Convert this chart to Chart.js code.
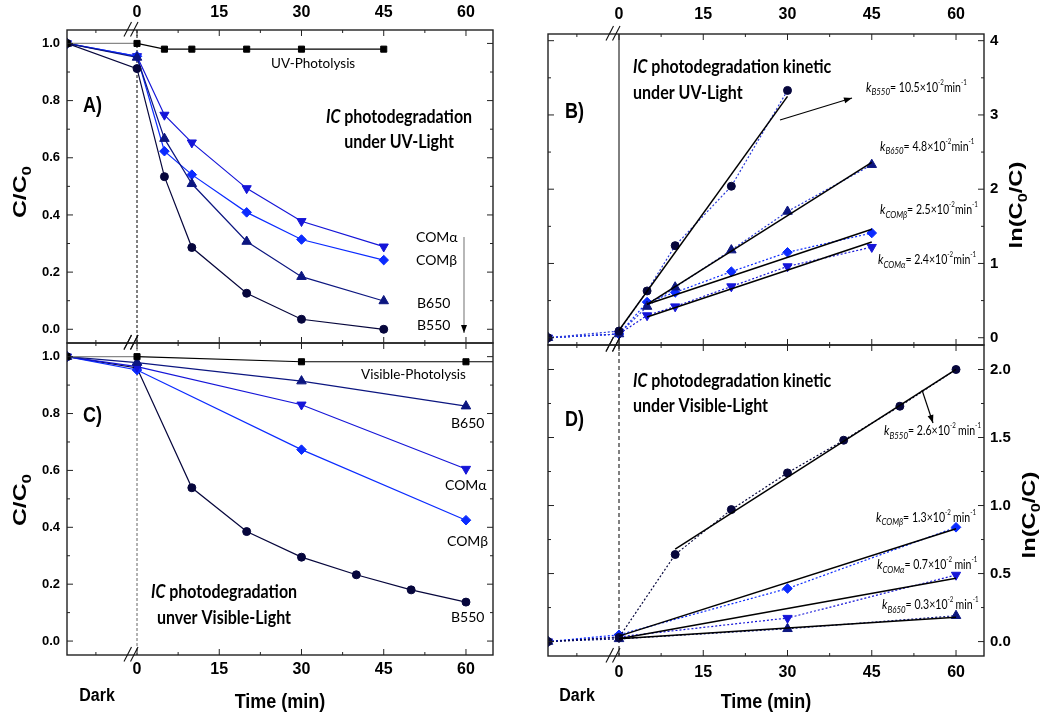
<!DOCTYPE html>
<html><head><meta charset="utf-8">
<script src="https://cdn.jsdelivr.net/npm/chart.js@4.4.0/dist/chart.umd.min.js"></script>
<style>
html,body{margin:0;padding:0;background:#fff;}
#wrap{position:relative;width:1053px;height:716px;overflow:hidden;background:#fff;}
canvas{position:absolute;left:0;top:0;}
</style></head><body><div id="wrap">
<canvas id="cA" width="1053" height="716"></canvas>
<canvas id="cB" width="1053" height="716"></canvas>
<canvas id="cC" width="1053" height="716"></canvas>
<canvas id="cD" width="1053" height="716"></canvas>
</div>
<script>
// ---------------- DATA ----------------
const xTickLabels = [0, 15, 30, 45, 60];
const xMinorTicks = [-7.5, 7.5, 22.5, 37.5, 52.5];
const ccTickLabels = [0, 0.2, 0.4, 0.6, 0.8, 1.0];
const ccMinorTicks = [0.1, 0.3, 0.5, 0.7, 0.9];
const lnUvTickLabels = [0, 1, 2, 3, 4];
const lnUvMinorTicks = [0.5, 1.5, 2.5, 3.5];
const lnVisTickLabels = [0, 0.5, 1.0, 1.5, 2.0];
const lnVisMinorTicks = [0.25, 0.75, 1.25, 1.75];

const darkCC = 1.0;      // C/C0 in the dark stage
const darkLn = 0.0;      // ln(C0/C) in the dark stage

// Panel A: UV, C/C0
const uvTime = [0, 5, 10, 20, 30, 45];
const uvPhotolysis = [1.0, 0.98, 0.98, 0.98, 0.98, 0.98];
const uvB550 = [0.912, 0.534, 0.286, 0.126, 0.035, 0.0];
const uvB650 = [0.951, 0.667, 0.509, 0.307, 0.184, 0.099];
const uvCOMb = [0.955, 0.623, 0.541, 0.409, 0.314, 0.242];
const uvCOMa = [0.955, 0.750, 0.653, 0.493, 0.378, 0.289];

// Panel C: Visible, C/C0
const visTime = [0, 30, 60];
const visPhotTime = [0, 30, 60, 65];
const visPhotolysis = [1.0, 0.982, 0.982, 0.982];
const visB650 = [0.979, 0.914, 0.826];
const visCOMa = [0.965, 0.831, 0.605];
const visCOMb = [0.953, 0.673, 0.425];
const visB550Time = [0, 10, 20, 30, 40, 50, 60];
const visB550 = [0.96, 0.539, 0.385, 0.295, 0.233, 0.180, 0.137];

// Panel B: UV, ln(C0/C)
const lnUvB550Time = [0, 5, 10, 20, 30];
const lnUvB550 = [0.09, 0.63, 1.24, 2.04, 3.33];
const lnUvB650 = [0.05, 0.42, 0.68, 1.18, 1.70, 2.33];
const lnUvCOMb = [0.05, 0.48, 0.61, 0.89, 1.15, 1.41];
const lnUvCOMa = [0.05, 0.30, 0.42, 0.69, 0.96, 1.22];
const fitUvB550 = {x: [0, 30], y: [0.10, 3.25]};
const fitUvB650 = {x: [5, 45], y: [0.45, 2.36]};
const fitUvCOMb = {x: [5, 45], y: [0.45, 1.46]};
const fitUvCOMa = {x: [5, 45], y: [0.28, 1.29]};

// Panel D: Visible, ln(C0/C)
const lnVisB550 = [0.03, 0.64, 0.97, 1.24, 1.48, 1.73, 2.0];
const lnVisCOMb = [0.05, 0.39, 0.84];
const lnVisCOMa = [0.035, 0.173, 0.49];
const lnVisB650 = [0.02, 0.094, 0.19];
const fitVisB550 = {x: [10, 60], y: [0.68, 2.0]};
const fitVisCOMb = {x: [0, 60], y: [0.04, 0.83]};
const fitVisCOMa = {x: [0, 60], y: [0.02, 0.465]};
const fitVisB650 = {x: [0, 60], y: [0.02, 0.178]};

// ---------------- STYLE ----------------
const C = {photo: '#000000', B550: '#06063c', B650: '#0c1680', COMb: '#0b2bff', COMa: '#1515d8'};
const ARIAL = "'Liberation Sans', Arial, sans-serif";
const CALI = "Lato, 'Open Sans', sans-serif";
const XMIN_L = -12.77, XMAX_L = 64.93;
const XMIN_R = -12.64, XMAX_R = 64.98;

function pts(xs, ys, dark) {
  const out = [];
  if (dark !== undefined) out.push({x: 'DARK', y: dark});
  xs.forEach((t, i) => out.push({x: t, y: ys[i]}));
  return out;
}

function series(label, color, style, xs, ys, dark, xminDark, opts) {
  const data = pts(xs, ys, dark).map(p => ({x: p.x === 'DARK' ? xminDark : p.x, y: p.y}));
  const s = {
    square: {pointStyle: 'rect', radius: 4.3, rot: 0},
    circle: {pointStyle: 'circle', radius: 4, rot: 0},
    up: {pointStyle: 'triangle', radius: 5.5, rot: 0},
    down: {pointStyle: 'triangle', radius: 5.3, rot: 180},
    diamond: {pointStyle: 'rectRot', radius: 4.8, rot: 0}
  }[style];
  return Object.assign({
    label, data, showLine: true, borderColor: color, backgroundColor: color,
    pointBackgroundColor: color, pointBorderColor: color, pointBorderWidth: 1,
    pointStyle: s.pointStyle, pointRadius: s.radius, pointRotation: s.rot,
    borderWidth: 1.2, tension: 0
  }, opts || {});
}

function fitLine(f) {
  return {
    data: f.x.map((v, i) => ({x: v, y: f.y[i]})), showLine: true,
    borderColor: '#000', borderWidth: 1.5, pointRadius: 0, tension: 0
  };
}

// ---------------- TEXT HELPERS ----------------
function drawParts(ctx, x, y, parts, opt) {
  opt = opt || {};
  ctx.save();
  ctx.translate(x, y);
  if (opt.rot) ctx.rotate(opt.rot);
  ctx.scale(opt.sx || 1, opt.sy || 1);
  ctx.textBaseline = 'alphabetic';
  ctx.fillStyle = opt.color || '#000';
  let total = 0;
  parts.forEach(p => { ctx.font = p.f; p.w = ctx.measureText(p.t).width + (p.gap || 0); total += p.w; });
  let cx = opt.align === 'center' ? -total / 2 : (opt.align === 'right' ? -total : 0);
  parts.forEach(p => { ctx.font = p.f; ctx.textAlign = 'left'; ctx.fillText(p.t, cx, p.dy || 0); cx += p.w; });
  ctx.restore();
}
function arrow(ctx, x1, y1, x2, y2, color, headColor) {
  ctx.save();
  ctx.strokeStyle = color; ctx.lineWidth = 1.2; ctx.setLineDash([]);
  ctx.beginPath(); ctx.moveTo(x1, y1); ctx.lineTo(x2, y2); ctx.stroke();
  const a = Math.atan2(y2 - y1, x2 - x1), L = 8, W = 3;
  ctx.fillStyle = headColor || color;
  ctx.beginPath();
  ctx.moveTo(x2, y2);
  ctx.lineTo(x2 - L * Math.cos(a) + W * Math.sin(a), y2 - L * Math.sin(a) - W * Math.cos(a));
  ctx.lineTo(x2 - L * Math.cos(a) - W * Math.sin(a), y2 - L * Math.sin(a) + W * Math.cos(a));
  ctx.closePath(); ctx.fill();
  ctx.restore();
}
const B = (s) => `bold ${s}px ${ARIAL}`;
const LB = (s) => `bold ${s}px ${CALI}`;
const LR = (s) => `${s}px ${CALI}`;
const LI = (s) => `italic ${s}px ${CALI}`;
function kLabel(sub, val, spaceMin) {
  return [
    {t: 'k', f: LI(13)},
    {t: sub, f: LI(9), dy: 3.5},
    {t: '= ' + val + '\u00d710', f: LR(12)},
    {t: '-2', f: LR(7), dy: -6, gap: spaceMin ? 2.5 : 0},
    {t: 'min', f: LR(12)},
    {t: '-1', f: LR(7), dy: -6}
  ];
}
const kOpt = {sx: 0.88, sy: 1.1};

// ---------------- PANEL PLUGIN ----------------
const panelPlugin = {
  id: 'panel',
  beforeDatasetsDraw(chart, args, o) {
    const {ctx, chartArea: a, scales: {x}} = chart;
    const p = x.getPixelForValue(0);
    ctx.save();
    ctx.strokeStyle = o.zeroColor; ctx.lineWidth = 1; ctx.setLineDash(o.zeroDash);
    ctx.beginPath(); ctx.moveTo(p, a.top); ctx.lineTo(p, a.bottom); ctx.stroke();
    ctx.restore();
  },
  afterDraw(chart, args, o) {
    const {ctx, chartArea: a, scales: {x, y}} = chart;
    ctx.save();
    ctx.setLineDash([]);
    ctx.strokeStyle = '#222'; ctx.lineWidth = 1.4;
    ctx.strokeRect(a.left, a.top, a.right - a.left, a.bottom - a.top);
    ctx.lineWidth = 1; ctx.strokeStyle = '#222';
    const line = (x1, y1, x2, y2) => { ctx.beginPath(); ctx.moveTo(x1, y1); ctx.lineTo(x2, y2); ctx.stroke(); };
    xTickLabels.forEach(v => { const p = x.getPixelForValue(v); line(p, a.top, p, a.top + 6); line(p, a.bottom, p, a.bottom - 6); });
    xMinorTicks.forEach(v => { const p = x.getPixelForValue(v); line(p, a.top, p, a.top + 3); line(p, a.bottom, p, a.bottom - 3); });
    o.yMajor.forEach(v => { const p = y.getPixelForValue(v); line(a.left, p, a.left + 6, p); line(a.right, p, a.right - 6, p); });
    o.yMinor.forEach(v => { const p = y.getPixelForValue(v); line(a.left, p, a.left + 3, p); line(a.right, p, a.right - 3, p); });
    // axis break marks
    const p0 = x.getPixelForValue(0);
    ctx.lineWidth = 1.1; ctx.strokeStyle = '#111';
    [a.top, a.bottom].forEach(e => {
      line(p0 - 13, e + 6.5, p0 - 5.5, e - 8);
      line(p0 - 6.5, e + 6.5, p0 + 1, e - 8);
    });
    ctx.restore();
    (o.draw || (() => {}))(ctx, chart);
  }
};
Chart.register(panelPlugin);

function makeChart(id, cfg) {
  const tickFontX = {family: ARIAL, weight: 'bold', size: 16};
  return new Chart(document.getElementById(id), {
    type: 'scatter',
    data: {datasets: cfg.datasets},
    options: {
      responsive: false, animation: false, devicePixelRatio: 1,
      layout: {padding: cfg.padding},
      plugins: {legend: {display: false}, tooltip: {enabled: false},
        panel: {zeroColor: cfg.zeroColor, zeroDash: cfg.zeroDash, yMajor: cfg.yTicks, yMinor: cfg.yMinor, draw: cfg.draw}},
      scales: {
        x: {
          type: 'linear', position: cfg.xPos, min: cfg.xmin, max: cfg.xmax,
          grid: {display: false, drawTicks: false}, border: {display: false},
          ticks: {font: tickFontX, color: '#000', padding: cfg.xPad, autoSkip: false, maxRotation: 0,
            callback: v => String(v)},
          afterBuildTicks: s => { s.ticks = xTickLabels.map(v => ({value: v})); },
          afterFit: s => { s.height = cfg.xH; }
        },
        y: {
          type: 'linear', position: cfg.yPos, min: cfg.ymin, max: cfg.ymax,
          grid: {display: false, drawTicks: false}, border: {display: false},
          ticks: {font: {family: ARIAL, weight: 'bold', size: cfg.yFont}, color: '#000', padding: cfg.yPad,
            autoSkip: false, callback: cfg.yFmt},
          afterBuildTicks: s => { s.ticks = cfg.yTicks.map(v => ({value: v})); },
          afterFit: s => { s.width = cfg.yW; }
        }
      }
    }
  });
}

// ---------- Panel A ----------
makeChart('cA', {
  padding: {left: 0, top: 0, right: 1053 - 493, bottom: 716 - 343},
  xPos: 'top', xH: 30, xPad: 8, xmin: XMIN_L, xmax: XMAX_L,
  yPos: 'left', yW: 67, yPad: 7, yFont: 13, ymin: -0.048, ymax: 1.047,
  yTicks: ccTickLabels, yMinor: ccMinorTicks, yFmt: v => v.toFixed(1),
  zeroColor: '#000', zeroDash: [3, 2],
  datasets: [
    series('UV-Photolysis', C.photo, 'square', uvTime, uvPhotolysis, darkCC, XMIN_L,
      {segment: {borderColor: c => c.p0.parsed.x < 0 ? '#888' : '#000'}}),
    series('B550', C.B550, 'circle', uvTime, uvB550, darkCC, XMIN_L),
    series('B650', C.B650, 'up', uvTime, uvB650, darkCC, XMIN_L),
    series('COMb', C.COMb, 'diamond', uvTime, uvCOMb, darkCC, XMIN_L),
    series('COMa', C.COMa, 'down', uvTime, uvCOMa, darkCC, XMIN_L)
  ],
  draw: (ctx) => {
    drawParts(ctx, 83, 112, [{t: 'A)', f: B(18)}], {sy: 1.2});
    drawParts(ctx, 271, 68, [{t: 'UV-Photolysis', f: LR(13.5)}]);
    drawParts(ctx, 399, 123, [{t: 'IC', f: `italic bold 16px ${CALI}`}, {t: ' photodegradation', f: LB(16)}], {align: 'center', sy: 1.15});
    drawParts(ctx, 399, 148, [{t: 'under UV-Light', f: LB(16)}], {align: 'center', sy: 1.15});
    drawParts(ctx, 416, 242, [{t: 'COM\u03b1', f: LR(14)}]);
    drawParts(ctx, 416, 264.5, [{t: 'COM\u03b2', f: LR(14)}]);
    drawParts(ctx, 417, 308, [{t: 'B650', f: LR(14)}]);
    drawParts(ctx, 417, 330, [{t: 'B550', f: LR(14)}]);
    arrow(ctx, 464, 237, 464, 333, '#888', '#000');
    drawParts(ctx, 26, 192, [{t: 'C/C', f: B(19)}, {t: '0', f: B(13), dy: 5}], {rot: -Math.PI / 2, align: 'center', sx: 1.3});
  }
});

// ---------- Panel C ----------
makeChart('cC', {
  padding: {left: 0, top: 343, right: 1053 - 493, bottom: 0},
  xPos: 'bottom', xH: 716 - 655, xPad: 5, xmin: XMIN_L, xmax: XMAX_L,
  yPos: 'left', yW: 67, yPad: 7, yFont: 13, ymin: -0.049, ymax: 1.048,
  yTicks: ccTickLabels, yMinor: ccMinorTicks, yFmt: v => v.toFixed(1),
  zeroColor: '#666', zeroDash: [3, 2],
  datasets: [
    series('Visible-Photolysis', C.photo, 'square', visPhotTime, visPhotolysis, darkCC, XMIN_L,
      {pointRadius: [4.3, 4.3, 4.3, 4.3, 0], segment: {borderColor: c => c.p0.parsed.x < 0 ? '#888' : '#000'}}),
    series('B650', C.B650, 'up', visTime, visB650, darkCC, XMIN_L),
    series('COMa', C.COMa, 'down', visTime, visCOMa, darkCC, XMIN_L),
    series('COMb', C.COMb, 'diamond', visTime, visCOMb, darkCC, XMIN_L),
    series('B550', C.B550, 'circle', visB550Time, visB550, darkCC, XMIN_L)
  ],
  draw: (ctx) => {
    drawParts(ctx, 83, 422, [{t: 'C)', f: B(18)}], {sy: 1.2});
    drawParts(ctx, 361, 379, [{t: 'Visible-Photolysis', f: LR(13.5)}]);
    drawParts(ctx, 451, 428, [{t: 'B650', f: LR(14)}]);
    drawParts(ctx, 445, 490, [{t: 'COM\u03b1', f: LR(14)}]);
    drawParts(ctx, 447, 545.5, [{t: 'COM\u03b2', f: LR(14)}]);
    drawParts(ctx, 451, 622, [{t: 'B550', f: LR(14)}]);
    drawParts(ctx, 224, 598, [{t: 'IC', f: `italic bold 16px ${CALI}`}, {t: ' photodegradation', f: LB(16)}], {align: 'center', sy: 1.15});
    drawParts(ctx, 224, 624, [{t: 'unver Visible-Light', f: LB(16)}], {align: 'center', sy: 1.15});
    drawParts(ctx, 26, 500, [{t: 'C/C', f: B(19)}, {t: '0', f: B(13), dy: 5}], {rot: -Math.PI / 2, align: 'center', sx: 1.3});
    drawParts(ctx, 97, 701, [{t: 'Dark', f: B(16)}], {align: 'center', sy: 1.1});
    drawParts(ctx, 280, 708, [{t: 'Time (min)', f: B(18)}], {align: 'center', sy: 1.15});
  }
});

// ---------- Panel B ----------
makeChart('cB', {
  padding: {left: 548, top: 0, right: 0, bottom: 716 - 345},
  xPos: 'top', xH: 34, xPad: 10, xmin: XMIN_R, xmax: XMAX_R,
  yPos: 'right', yW: 1053 - 984, yPad: 6, yFont: 15, ymin: -0.098, ymax: 4.09,
  yTicks: lnUvTickLabels, yMinor: lnUvMinorTicks, yFmt: v => String(v),
  zeroColor: '#000', zeroDash: [],
  datasets: [
    fitLine(fitUvB550), fitLine(fitUvB650), fitLine(fitUvCOMb), fitLine(fitUvCOMa),
    series('B550', C.B550, 'circle', lnUvB550Time, lnUvB550, darkLn, XMIN_R, {borderDash: [2, 2], borderColor: '#2a3ad8'}),
    series('B650', C.B650, 'up', uvTime, lnUvB650, darkLn, XMIN_R, {borderDash: [2, 2], borderColor: '#2a3ad8'}),
    series('COMb', C.COMb, 'diamond', uvTime, lnUvCOMb, darkLn, XMIN_R, {borderDash: [2, 2]}),
    series('COMa', C.COMa, 'down', uvTime, lnUvCOMa, darkLn, XMIN_R, {borderDash: [2, 2]})
  ],
  draw: (ctx) => {
    drawParts(ctx, 565, 118, [{t: 'B)', f: B(18)}], {sy: 1.2});
    drawParts(ctx, 633, 73, [{t: 'IC', f: `italic bold 16px ${CALI}`}, {t: ' photodegradation kinetic', f: LB(16)}], {sy: 1.15});
    drawParts(ctx, 633, 99, [{t: 'under UV-Light', f: LB(16)}], {sy: 1.15});
    drawParts(ctx, 866, 91.5, kLabel('B550', '10.5'), kOpt);
    drawParts(ctx, 880, 150.5, kLabel('B650', '4.8'), kOpt);
    drawParts(ctx, 880, 214, kLabel('COM\u03b2', '2.5'), kOpt);
    drawParts(ctx, 878, 264, kLabel('COM\u03b1', '2.4'), kOpt);
    arrow(ctx, 780, 120, 852, 98, '#000');
    drawParts(ctx, 1022, 205, [{t: 'ln(C', f: B(19)}, {t: '0', f: B(13), dy: 5}, {t: '/C)', f: B(19)}], {rot: -Math.PI / 2, align: 'center', sx: 1.25});
  }
});

// ---------- Panel D ----------
makeChart('cD', {
  padding: {left: 548, top: 345, right: 0, bottom: 0},
  xPos: 'bottom', xH: 716 - 656, xPad: 7, xmin: XMIN_R, xmax: XMAX_R,
  yPos: 'right', yW: 1053 - 984, yPad: 6, yFont: 15, ymin: -0.106, ymax: 2.18,
  yTicks: lnVisTickLabels, yMinor: lnVisMinorTicks, yFmt: v => v.toFixed(1),
  zeroColor: '#000', zeroDash: [4, 3],
  datasets: [
    fitLine(fitVisB550), fitLine(fitVisCOMb), fitLine(fitVisCOMa), fitLine(fitVisB650),
    series('B550', C.B550, 'circle', visB550Time, lnVisB550, darkLn, XMIN_R, {borderDash: [2, 2]}),
    series('COMb', C.COMb, 'diamond', visTime, lnVisCOMb, darkLn, XMIN_R, {borderDash: [2, 2]}),
    series('COMa', C.COMa, 'down', visTime, lnVisCOMa, darkLn, XMIN_R, {borderDash: [2, 2]}),
    series('B650', C.B650, 'up', visTime, lnVisB650, darkLn, XMIN_R, {borderDash: [2, 2]})
  ],
  draw: (ctx) => {
    drawParts(ctx, 565, 425.5, [{t: 'D)', f: B(18)}], {sy: 1.2});
    drawParts(ctx, 633, 386.5, [{t: 'IC', f: `italic bold 16px ${CALI}`}, {t: ' photodegradation kinetic', f: LB(16)}], {sy: 1.15});
    drawParts(ctx, 633, 412, [{t: 'under Visible-Light', f: LB(16)}], {sy: 1.15});
    drawParts(ctx, 884, 435, kLabel('B550', '2.6', true), kOpt);
    drawParts(ctx, 876, 521.5, kLabel('COM\u03b2', '1.3', true), kOpt);
    drawParts(ctx, 877, 569, kLabel('COM\u03b1', '0.7', true), kOpt);
    drawParts(ctx, 882, 609, kLabel('B650', '0.3', true), kOpt);
    arrow(ctx, 922, 390, 933, 423, '#000');
    drawParts(ctx, 1035, 515, [{t: 'ln(C', f: B(19)}, {t: '0', f: B(13), dy: 5}, {t: '/C)', f: B(19)}], {rot: -Math.PI / 2, align: 'center', sx: 1.25});
    drawParts(ctx, 577, 701, [{t: 'Dark', f: B(16)}], {align: 'center', sy: 1.1});
    drawParts(ctx, 766, 708, [{t: 'Time (min)', f: B(18)}], {align: 'center', sy: 1.15});
  }
});
</script>
</body></html>
